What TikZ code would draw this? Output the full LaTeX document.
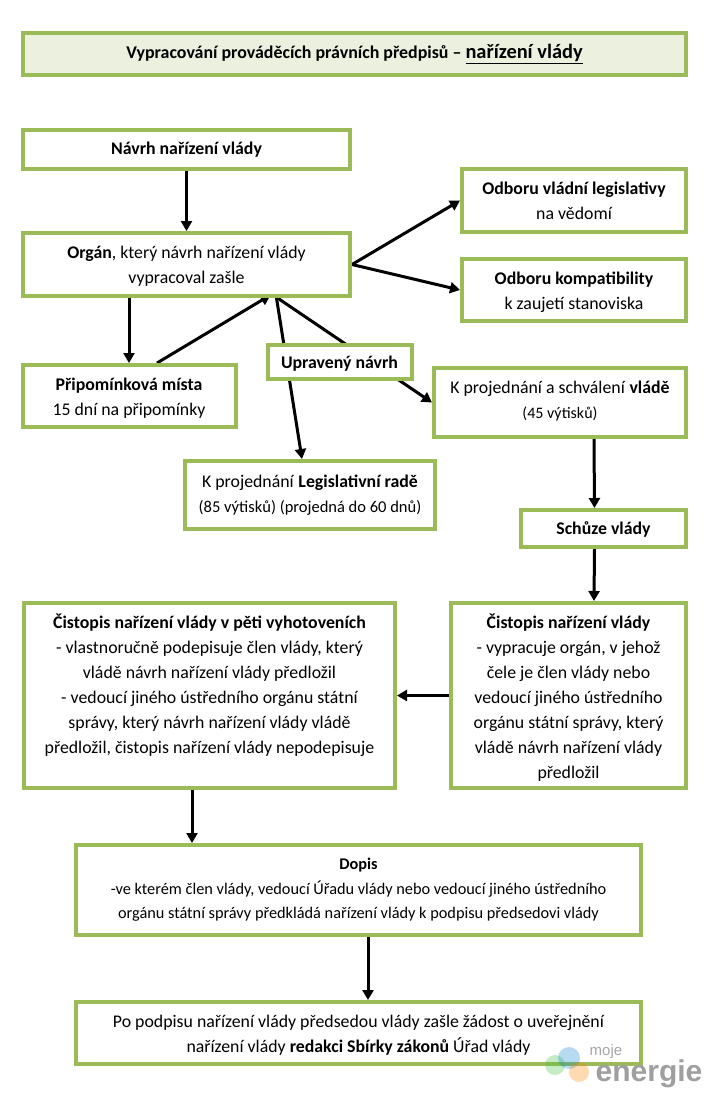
\documentclass[tikz,border=0pt]{standalone}
\usepackage{fontspec}
\setmainfont{Carlito}
\newfontfamily\logofont{Liberation Sans}
\usetikzlibrary{arrows.meta,backgrounds,calc}
\definecolor{boxgreen}{HTML}{9BBB59}
\definecolor{titlefill}{HTML}{EBF1DE}
\tikzset{
  box/.style={draw=boxgreen,line width=4pt,fill=white,inner sep=0pt,align=center,text=black,font=\fontsize{17.8}{25}\selectfont},
  smallbox/.style={box,font=\fontsize{16.3}{24.5}\selectfont},
  conn/.style={draw=black,line width=3pt,-{Triangle[length=10pt,width=11pt]}},
  logodot/.style={fill opacity=.3,draw=none}
}
\newcommand{\heavyline}[1]{\vtop{\hbox{#1}\kern1.6pt\hrule height 1.3pt}}
\begin{document}
\begin{tikzpicture}[x=1pt,y=-1pt]
\useasboundingbox (0,0) rectangle (709,1096);
\node[box,fill=titlefill,minimum width=663pt,minimum height=42pt] (title) at (354.5,54) {\fontsize{17.9}{25}\selectfont\textbf{Vypracování prováděcích právních předpisů – {\fontsize{20.4}{25}\selectfont\heavyline{nařízení vlády}}}};
\node[box,minimum width=327pt,minimum height=39pt] (navrh) at (186.5,149.5) {\textbf{Návrh nařízení vlády}};
\node[box,minimum width=327pt,minimum height=63pt] (organ) at (186.5,264.5) {\rule{0pt}{16pt}\textbf{Orgán}, který návrh nařízení vlády\\vypracoval zašle};
\node[box,minimum width=224pt,minimum height=63pt] (odbor1) at (574,200.5) {\textbf{Odboru vládní legislativy}\\na vědomí};
\node[box,minimum width=224pt,minimum height=62pt] (odbor2) at (574,290) {\rule{0pt}{17pt}\textbf{Odboru kompatibility}\\k zaujetí stanoviska};
\node[box,minimum width=213pt,minimum height=62pt] (pripom) at (129,396) {\rule{0pt}{16pt}\textbf{Připomínková místa}\\15 dní na připomínky};
\node[box,minimum width=144pt,minimum height=34pt] (upraveny) at (339.5,361.5) {\rule{0pt}{17pt}\textbf{Upravený návrh}};
\node[box,minimum width=252pt,minimum height=69pt] (kvlada) at (560,402.5) {K projednání a schválení \textbf{vládě}\\{\fontsize{16}{20}\selectfont (45 výtisků)\rule[-6pt]{0pt}{1pt}}};
\node[box,minimum width=250pt,minimum height=68pt] (klegis) at (310,495) {K projednání \textbf{Legislativní radě}\\{\fontsize{16.5}{25}\selectfont (85 výtisků) (projedná do 60 dnů)}};
\node[box,minimum width=165pt,minimum height=37pt] (schuze) at (603.5,528.5) {\rule{0pt}{15.5pt}\textbf{Schůze vlády}};
\node[box,minimum width=371pt,minimum height=185pt] (cistL) at (209.5,695.5) {\textbf{Čistopis nařízení vlády v pěti vyhotoveních}\\- vlastnoručně podepisuje člen vlády, který\\vládě návrh nařízení vlády předložil\\- vedoucí jiného ústředního orgánu státní\\správy, který návrh nařízení vlády vládě\\předložil, čistopis nařízení vlády nepodepisuje\\[-9pt]\strut};
\node[box,minimum width=235pt,minimum height=185pt] (cistR) at (568.5,695.5) {\rule{0pt}{19.5pt}\textbf{Čistopis nařízení vlády}\\- vypracuje orgán, v jehož\\čele je člen vlády nebo\\vedoucí jiného ústředního\\orgánu státní správy, který\\vládě návrh nařízení vlády\\předložil};
\node[smallbox,minimum width=565pt,minimum height=90pt] (dopis) at (358.5,890) {\textbf{Dopis}\\-ve kterém člen vlády, vedoucí Úřadu vlády nebo vedoucí jiného ústředního\\orgánu státní správy předkládá nařízení vlády k podpisu předsedovi vlády};
\node[box,minimum width=565pt,minimum height=62pt] (podpis) at (358.5,1033) {\rule{0pt}{16pt}Po podpisu nařízení vlády předsedou vlády zašle žádost o uveřejnění\\nařízení vlády \textbf{redakci Sbírky zákonů} Úřad vlády};
\begin{scope}[on background layer]
\draw[conn] (navrh.south) -- (organ.north);
\draw[conn] (organ.east) -- (odbor1.west);
\draw[conn] (organ.east) -- (odbor2.west);
\draw[conn] ([xshift=-57.5pt]organ.south) -- (pripom.north);
\draw[conn] ([xshift=28pt]pripom.north) -- ([xshift=84pt,yshift=3pt]organ.south);
\draw[conn] ([xshift=90pt]organ.south) -- ([xshift=-8pt]klegis.north);
\draw[conn] ([xshift=91pt]organ.south) -- (kvlada.west);
\draw[conn] ([xshift=34pt]kvlada.south) -- ([xshift=-9pt]schuze.north);
\draw[conn] ([xshift=-9pt]schuze.south) -- ([xshift=25.5pt]cistR.north);
\draw[conn] (cistR.west) -- (cistL.east);
\draw[conn] ([xshift=-17.5pt]cistL.south) -- ([xshift=-166.5pt]dopis.north);
\draw[conn] ([xshift=9.5pt]dopis.south) -- ([xshift=9.5pt]podpis.north);
\end{scope}
\fill[logodot,green!50!gray] (555,1065) circle (10pt);
\fill[logodot,cyan!70!blue] (569,1058) circle (11pt);
\fill[logodot,orange] (579,1072) circle (10pt);
\node[text=gray!70,inner sep=0pt,font=\logofont\fontsize{15}{15}\selectfont] (logomoje) at (606,1052) {moje};
\node[text=gray!75,inner sep=0pt,font=\logofont\bfseries\fontsize{30}{30}\selectfont] (logoenergie) at (649,1074) {energie};
\end{tikzpicture}
\end{document}
